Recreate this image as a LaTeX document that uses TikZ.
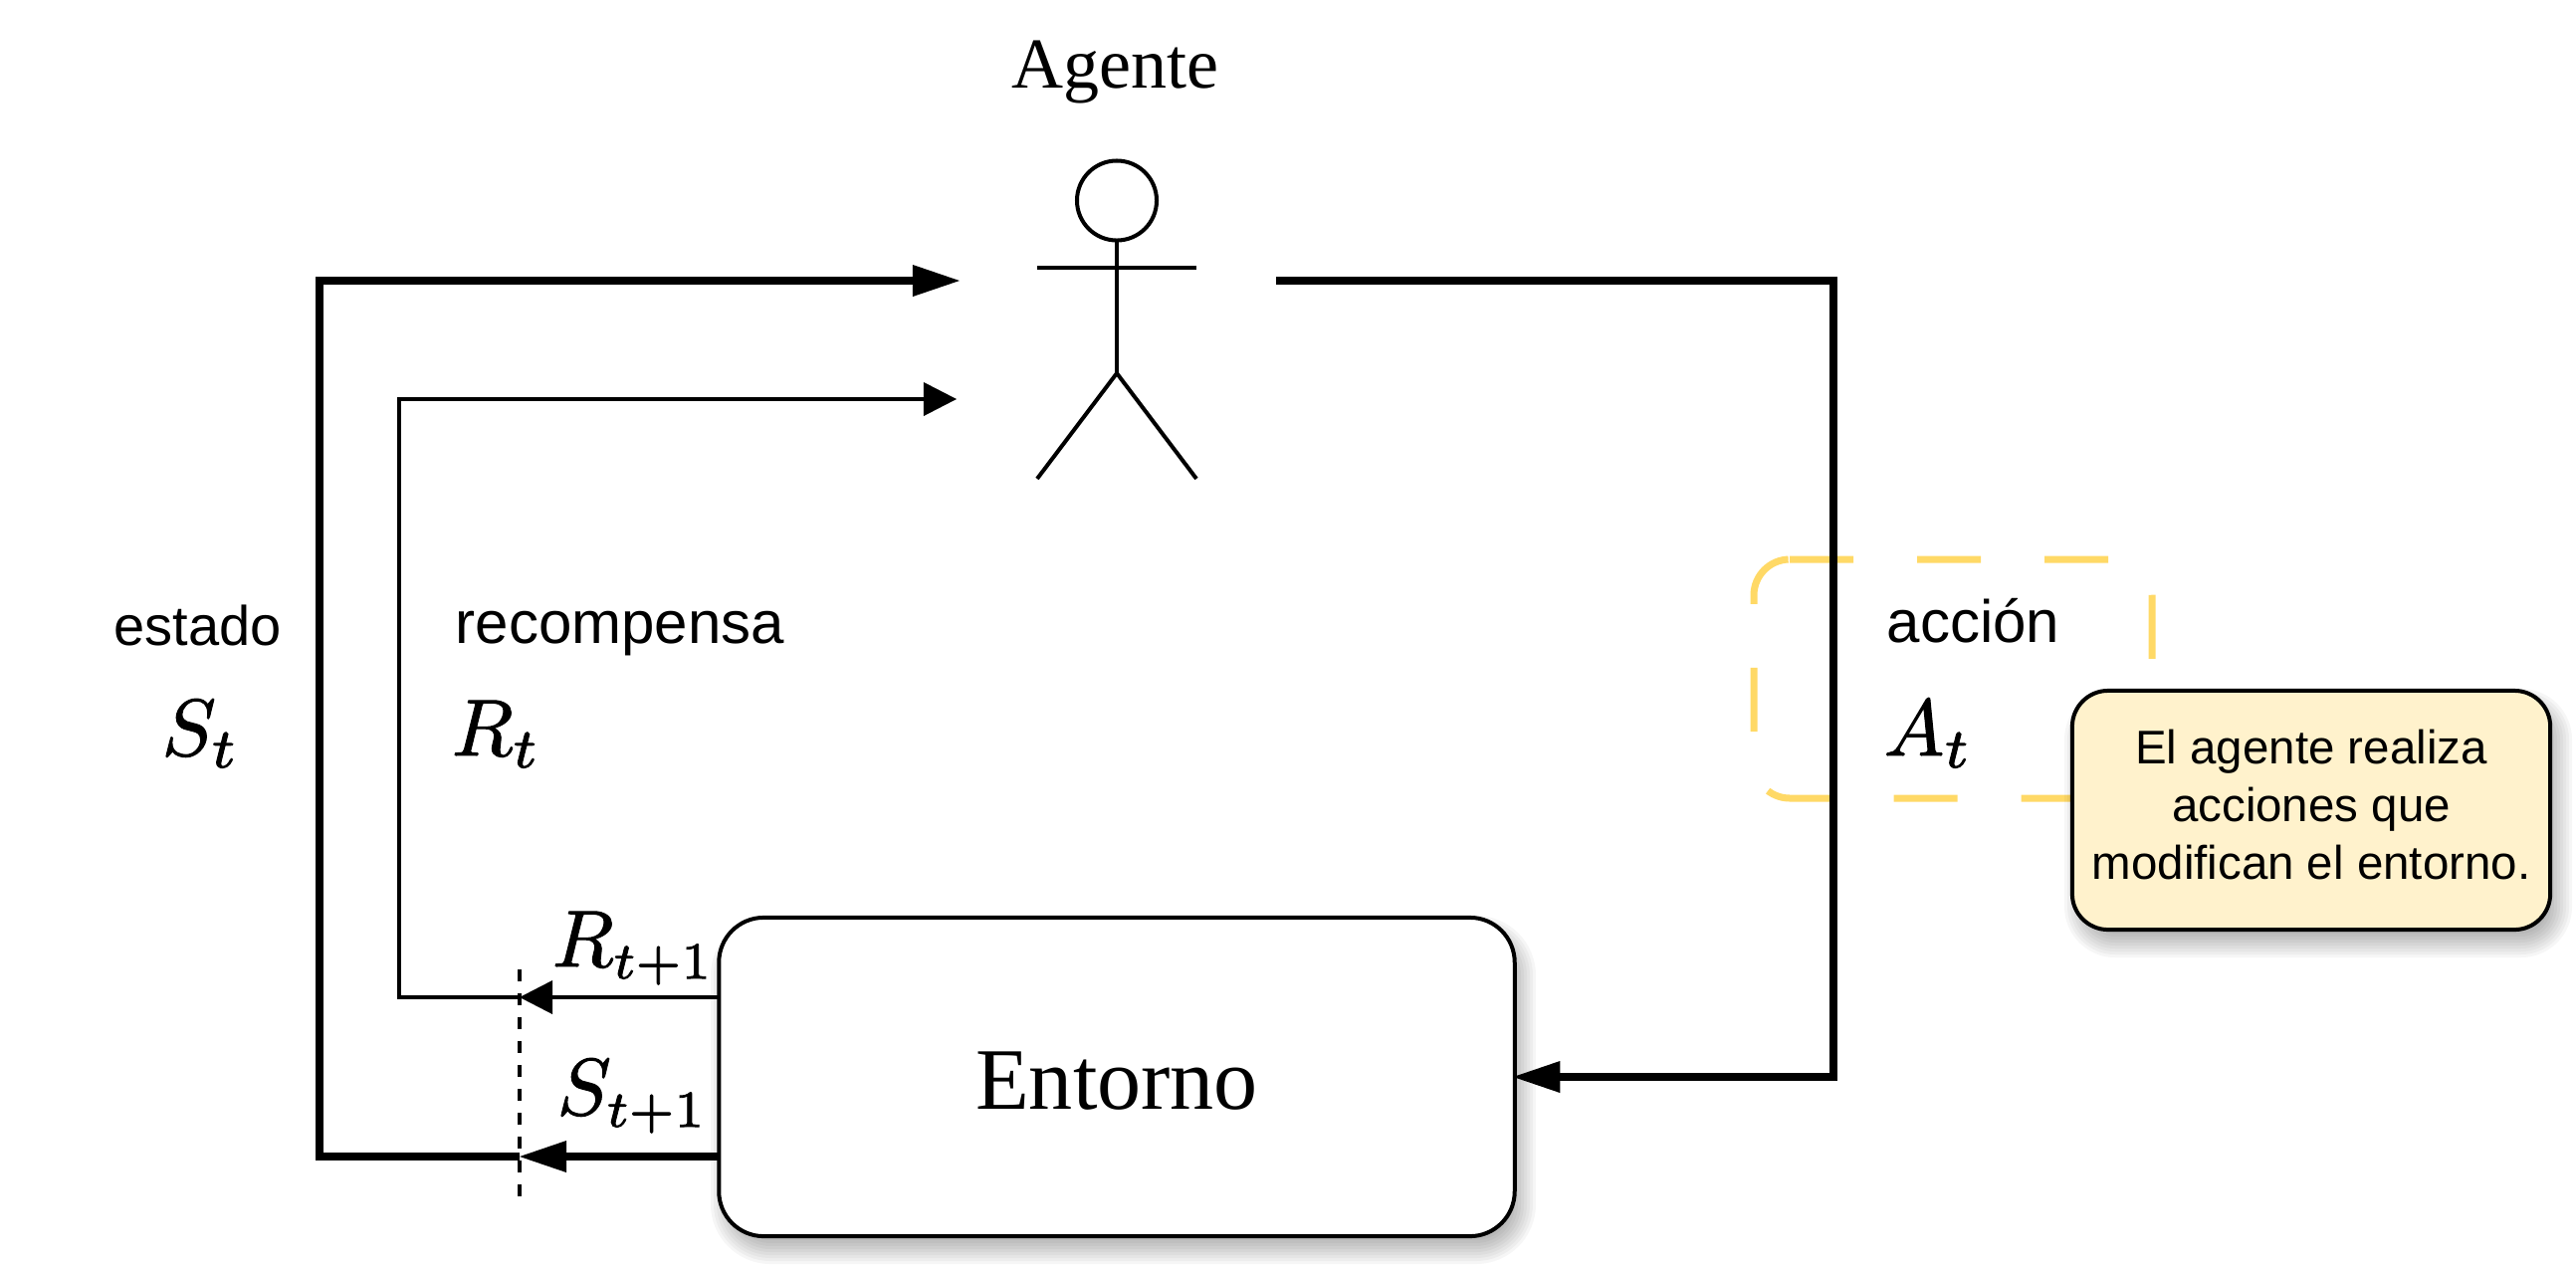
\documentclass[tikz,border=0pt]{standalone}
\usepackage{graphicx}
\usepackage{fontspec}
\setmainfont{Liberation Sans}
\newfontfamily\serifface{Liberation Serif}
\usetikzlibrary{arrows.meta,calc}
\definecolor{noteyellow}{HTML}{FFD966}
\definecolor{notefill}{HTML}{FFF2CC}
\newcommand{\softshadow}[5]{%
  \foreach \e in {-15,-12,...,15}{%
    \pgfmathsetmacro{\rad}{max(#5+\e,1)}%
    \fill[black,fill opacity=.035,rounded corners=\rad*.01cm]
      (#1+7-\e,#2+13-\e) rectangle (#3+7+\e,#4+13+\e);}}
\newcommand{\mth}[1]{\scalebox{2.3}{\special{pdf:code 2 Tr .12 w}$#1$\special{pdf:code 0 Tr}}}
\newcommand{\subtight}{\scalebox{.92}{$\scriptstyle t+1$}}
\tikzset{
  px/.style={x=.01cm,y=-.01cm},
  heavy/.style={line width=.08cm,line join=miter},
  light/.style={line width=.04cm,line join=miter},
  heavytip/.style={-{Triangle[length=.47cm,width=.32cm,line width=0pt]}},
  lighttip/.style={-{Triangle[length=.33cm,width=.34cm,line width=0pt]}},
  caption/.style={inner sep=0pt,anchor=base west,font=\fontsize{15.93}{19}\selectfont},
  captionb/.style={inner sep=0pt,anchor=base west,font=\fontsize{17.07}{20}\selectfont},
  symb/.style={inner sep=0pt,anchor=base west},
  actorline/.style={line width=.04cm,line cap=butt},
  box/.style={draw=black,line width=.04cm,fill=white,rounded corners=.45cm,minimum width=7.99cm,minimum height=3.2cm,inner sep=0pt,outer sep=0pt},
  notebox/.style={draw=black,line width=.04cm,fill=notefill,rounded corners=.36cm,minimum width=4.8cm,minimum height=2.4cm,inner sep=0pt,outer sep=0pt,align=center,font=\fontsize{13.5}{16.5}\selectfont},
  dashbox/.style={draw=noteyellow,line width=.07cm,rounded corners=.36cm,dash pattern=on .64cm off .64cm}
}
\begin{document}
\begin{tikzpicture}[px]
\useasboundingbox (0,0) rectangle (2588,1272);
% yellow dashed selection
\draw[dashbox] (1798,562) -- (2162,562) -- (2162,802) -- (1762,802) -- (1762,562) -- (1798,562);
% environment
\softshadow{722}{922}{1521}{1242}{45}
\node[box,font=\serifface\fontsize{25.04}{30}\selectfont] (entorno) at (1122,1082) {\rule{0pt}{18.8pt}Entorno\hspace{1.6pt}};
% agent
\node[inner sep=0pt,anchor=base,font=\serifface\fontsize{20.49}{25}\selectfont] (agente) at (1120.5,88) {Agente};
\node[draw=black,line width=.04cm,circle,minimum size=.80cm,inner sep=0pt,outer sep=0pt] (head) at (1122,201.5) {};
\coordinate (hip) at (1122,375);
\coordinate (armL) at (1042,268.5);
\coordinate (armR) at (1202,268.5);
\coordinate (legL) at (1042,481);
\coordinate (legR) at (1202,481);
\draw[actorline] (head.south) -- (hip);
\draw[actorline] (armL) -- (armR);
\draw[actorline] (legL) -- (hip) -- (legR);
% junctions
\coordinate (dashtop) at (522,974);
\coordinate (dashbot) at (522,1202);
\coordinate (rjoin) at (522,1002);
\coordinate (sjoin) at (522,1162);
\coordinate (scorner) at (321,1162);
\coordinate (scorner2) at (321,282);
\coordinate (stip) at (964,282);
\coordinate (rcorner) at (401,1002);
\coordinate (rcorner2) at (401,401);
\coordinate (rtip) at (961,401);
\coordinate (astart) at (1282,282);
\coordinate (acorner) at (1842,282);
\coordinate (acorner2) at (1842,1082);
% connectors
\draw[heavy,heavytip] (astart) -- (acorner) -- (acorner2) -- ([xshift=-.015cm]entorno.east);
\draw[light,lighttip] (entorno.west |- rjoin) -- (rjoin);
\draw[heavy,heavytip] (entorno.west |- sjoin) -- (sjoin);
\draw[light,lighttip] (rjoin) -- (rcorner) -- (rcorner2) -- (rtip);
\draw[heavy,heavytip] (sjoin) -- (scorner) -- (scorner2) -- (stip);
\draw[line width=.04cm,dash pattern=on .12cm off .12cm] (dashtop) -- (dashbot);
% labels
\node[caption] (estado) at (114,648) {estado};
\node[symb] (st) at (162,759) {\mth{S_t}};
\node[captionb] (recomp) at (457,646) {recompensa};
\node[symb] (rt) at (453,759) {\mth{R_t}};
\node[captionb] (accion) at (1895,645) {acción};
\node[symb] (at) at (1892,759) {\mth{A_t}};
\node[symb] (rt1) at (554,971) {\mth{R_{\subtight}}};
\node[symb] (st1) at (559,1120) {\mth{S_{\subtight}}};
% note
\softshadow{2082}{694}{2562}{934}{36}
\node[notebox] (note) at (2322,814) {El agente realiza\\acciones que\\modifican el entorno.\rule[-3.5pt]{0pt}{3.5pt}};
\end{tikzpicture}
\end{document}
